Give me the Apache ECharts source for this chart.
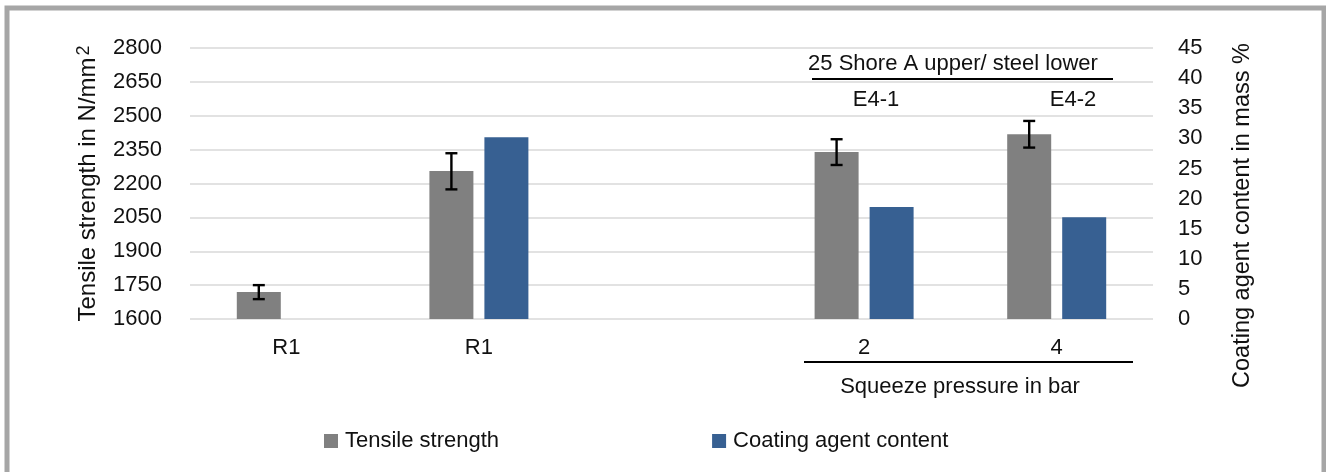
<!DOCTYPE html>
<html>
<head>
<meta charset="utf-8">
<script src="https://cdn.jsdelivr.net/npm/echarts@6/dist/echarts.min.js"></script>
<style>
html,body{margin:0;padding:0;background:#fff;}
#c{width:1326px;height:472px;}
</style>
</head>
<body>
<div id="c"></div>
<script>
// ---- data ----
var categories = ['R1', 'R1', '', '2', '4'];
var tensile = [1720, 2255, null, 2340, 2418];
var tensileErrLow = [1688, 2174, null, 2282, 2359];
var tensileErrHigh = [1750, 2334, null, 2396, 2477];
var coating = [null, 30.2, null, 18.6, 16.9];
var leftTicks = [1600, 2800, 150];
var rightTicks = [0, 45, 5];
var groupLabels = ['E4-1', 'E4-2'];

// ---- styles ----
var FONT = "'Liberation Sans', Arial, sans-serif";
var TXT = '#111';
var GRAY = '#808080';
var BLUE = '#376092';
var BAR_W = 44, BAR_GAP = 11;

var errData = [];
for (var i = 0; i < categories.length; i++) {
  if (tensileErrLow[i] != null) errData.push([i, tensileErrLow[i], tensileErrHigh[i]]);
}

var chart = echarts.init(document.getElementById('c'), null, {renderer: 'canvas'});
var option = {
  animation: false,
  textStyle: {fontFamily: FONT, color: TXT},
  grid: {left: 190, right: 173, top: 48, bottom: 153, containLabel: false},
  legend: {
    left: 319, top: 425,
    itemWidth: 14, itemHeight: 14, itemGap: 213,
    icon: 'rect',
    textStyle: {fontFamily: FONT, fontSize: 22, color: TXT, padding: [0, 0, 0, 2]},
    data: ['Tensile strength', 'Coating agent content']
  },
  xAxis: {
    type: 'category',
    data: categories,
    axisLine: {show: false},
    axisTick: {show: false},
    axisLabel: {fontFamily: FONT, fontSize: 22, color: TXT, margin: 18}
  },
  yAxis: [{
    type: 'value',
    min: leftTicks[0], max: leftTicks[1], interval: leftTicks[2],
    name: 'Tensile strength in N/mm{sup|2}',
    nameLocation: 'middle',
    nameGap: 84,
    nameTextStyle: {fontFamily: FONT, fontSize: 24, color: TXT, lineHeight: 27,
      rich: {sup: {fontFamily: FONT, fontSize: 18, color: TXT, verticalAlign: 'top', lineHeight: 27, padding: [0, 0, 8, 2]}}},
    axisLine: {show: false},
    axisTick: {show: false},
    axisLabel: {fontFamily: FONT, fontSize: 22, color: TXT, margin: 28,
      formatter: function (v) { return String(v); }},
    splitLine: {show: true, lineStyle: {color: '#d9d9d9', width: 1.5}}
  }, {
    type: 'value',
    min: rightTicks[0], max: rightTicks[1], interval: rightTicks[2],
    name: 'Coating agent content in mass %',
    nameLocation: 'middle',
    nameGap: 78,
    nameTextStyle: {fontFamily: FONT, fontSize: 23.5, color: TXT, padding: [0, 64, 0, 0]},
    axisLine: {show: false},
    axisTick: {show: false},
    axisLabel: {fontFamily: FONT, fontSize: 22, color: TXT, margin: 25,
      formatter: function (v) { return String(v); }},
    splitLine: {show: false}
  }],
  series: [{
    name: 'Tensile strength',
    type: 'bar',
    yAxisIndex: 0,
    barWidth: BAR_W,
    barGap: (BAR_GAP / BAR_W * 100) + '%',
    itemStyle: {color: GRAY},
    data: tensile.map(function (v) { return v == null ? '-' : v; })
  }, {
    name: 'Coating agent content',
    type: 'bar',
    yAxisIndex: 1,
    barWidth: BAR_W,
    itemStyle: {color: BLUE},
    data: coating.map(function (v) { return v == null ? '-' : v; })
  }, {
    name: 'err',
    type: 'custom',
    yAxisIndex: 0,
    z: 10,
    encode: {x: 0, y: [1, 2]},
    data: errData,
    renderItem: function (params, api) {
      var x = api.value(0);
      var pLo = api.coord([x, api.value(1)]);
      var pHi = api.coord([x, api.value(2)]);
      var cx = pLo[0] - (BAR_W + BAR_GAP) / 2;
      var cap = 6;
      var st = {stroke: '#000', lineWidth: 2.4};
      return {type: 'group', children: [
        {type: 'line', shape: {x1: cx, y1: pLo[1], x2: cx, y2: pHi[1]}, style: st},
        {type: 'line', shape: {x1: cx - cap, y1: pLo[1], x2: cx + cap, y2: pLo[1]}, style: st},
        {type: 'line', shape: {x1: cx - cap, y1: pHi[1], x2: cx + cap, y2: pHi[1]}, style: st}
      ]};
    }
  }],
  graphic: [
    {type: 'rect', shape: {x: 7, y: 8, width: 1317, height: 520}, style: {fill: 'none', stroke: '#a6a6a6', lineWidth: 5}, silent: true},
    {type: 'text', x: 953, y: 64, style: {text: '25 Shore A upper/ steel lower', font: '22px ' + FONT, fill: TXT, textAlign: 'center', textVerticalAlign: 'middle'}},
    {type: 'line', shape: {x1: 812, y1: 79, x2: 1113, y2: 79}, style: {stroke: '#000', lineWidth: 2}},
    {type: 'text', x: 876, y: 100, style: {text: groupLabels[0], font: '22px ' + FONT, fill: TXT, textAlign: 'center', textVerticalAlign: 'middle'}},
    {type: 'text', x: 1073, y: 100, style: {text: groupLabels[1], font: '22px ' + FONT, fill: TXT, textAlign: 'center', textVerticalAlign: 'middle'}},
    {type: 'line', shape: {x1: 804, y1: 362, x2: 1133, y2: 362}, style: {stroke: '#000', lineWidth: 2}},
    {type: 'text', x: 960, y: 387, style: {text: 'Squeeze pressure in bar', font: '22px ' + FONT, fill: TXT, textAlign: 'center', textVerticalAlign: 'middle'}}
  ]
};
chart.setOption(option);
</script>
</body>
</html>
